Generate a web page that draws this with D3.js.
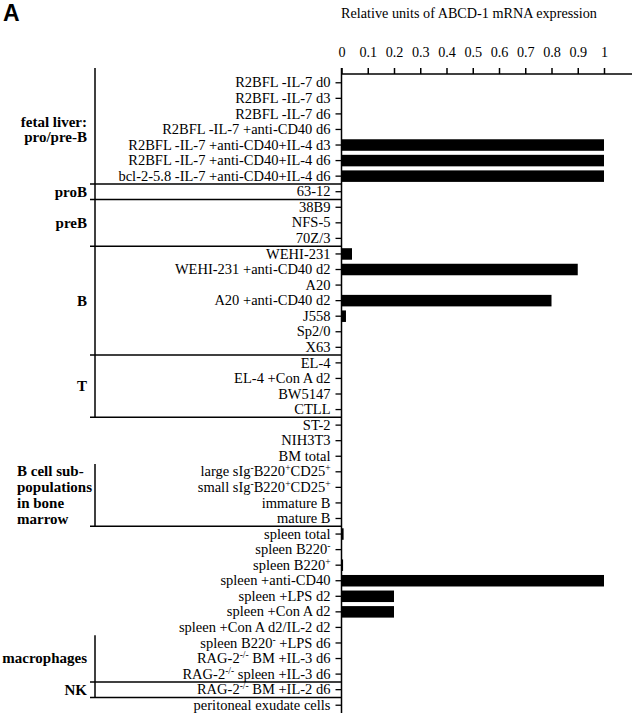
<!DOCTYPE html>
<html>
<head>
<meta charset="utf-8">
<script src="https://cdn.jsdelivr.net/npm/d3@7"></script>
<style>
  body { margin: 0; background: #fff; }
  svg { display: block; }
  text { font-family: "Liberation Serif", "Times New Roman", serif; fill: #000; }
</style>
</head>
<body>
<svg id="chart"></svg>
<script>
// rows, top to bottom; text inside {} is drawn as superscript
const categories = [
  'R2BFL -IL-7 d0',
  'R2BFL -IL-7 d3',
  'R2BFL -IL-7 d6',
  'R2BFL -IL-7 +anti-CD40 d6',
  'R2BFL -IL-7 +anti-CD40+IL-4 d3',
  'R2BFL -IL-7 +anti-CD40+IL-4 d6',
  'bcl-2-5.8 -IL-7 +anti-CD40+IL-4 d6',
  '63-12',
  '38B9',
  'NFS-5',
  '70Z/3',
  'WEHI-231',
  'WEHI-231 +anti-CD40 d2',
  'A20',
  'A20 +anti-CD40 d2',
  'J558',
  'Sp2/0',
  'X63',
  'EL-4',
  'EL-4 +Con A d2',
  'BW5147',
  'CTLL',
  'ST-2',
  'NIH3T3',
  'BM total',
  'large sIg{-}B220{+}CD25{+}',
  'small sIg{-}B220{+}CD25{+}',
  'immature B',
  'mature B',
  'spleen total',
  'spleen B220{-}',
  'spleen B220{+}',
  'spleen +anti-CD40',
  'spleen +LPS d2',
  'spleen +Con A d2',
  'spleen +Con A d2/IL-2 d2',
  'spleen B220{-} +LPS d6',
  'RAG-2{-/-} BM +IL-3 d6',
  'RAG-2{-/-} spleen +IL-3 d6',
  'RAG-2{-/-} BM +IL-2 d6',
  'peritoneal exudate cells'
]

const values = [
  0, 0, 0, 0, 1, 1, 1,
  0,
  0, 0, 0,
  0.04, 0.9, 0, 0.8, 0.017, 0, 0,
  0, 0, 0, 0,
  0, 0, 0,
  0, 0, 0, 0,
  0.008, 0, 0.006, 1, 0.2, 0.2, 0,
  0, 0, 0,
  0,
  0
]

const xTicks = [0, 0.1, 0.2, 0.3, 0.4, 0.5, 0.6, 0.7, 0.8, 0.9, 1]

// cell-type groups shown as brackets on the left (row index ranges)
const groupLabels = [
  ['fetal liver:', 'pro/pre-B'],
  ['proB'],
  ['preB'],
  ['B'],
  ['T'],
  ['B cell sub-', 'populations', 'in bone', 'marrow'],
  ['macrophages'],
  ['NK']
]
const groupStart = [0, 7, 8, 11, 18, 25, 36, 39]
const groupEnd = [6, 7, 10, 17, 21, 28, 38, 39]

const width = 640
const height = 720

const svg = d3.select('#chart')
  .attr('width', width)
  .attr('height', height)

const x = d3.scaleLinear().domain([0, 1]).range([341.5, 604])
const y = d3.scaleBand()
  .domain(categories)
  .range([75, 713])
  .paddingInner(0.26)
  .paddingOuter(0.13)

const cellTop = c => y(c) - y.step() * y.paddingInner() / 2
const cellBottom = c => cellTop(c) + y.step()

// write a label with {..} parts raised as superscripts
function richText (sel, label) {
  sel.text(null)
  label.split(/(\{[^}]*\})/).filter(s => s.length).forEach((part, i, arr) => {
    const sup = part[0] === '{'
    const prevSup = i > 0 && arr[i - 1][0] === '{'
    const t = sel.append('tspan').text(sup ? part.slice(1, -1) : part)
    if (sup) t.attr('font-size', 9.5).attr('dy', -5)
    else if (prevSup) t.attr('dy', 5)
  })
}

// panel letter and title
svg.append('text')
  .attr('x', 3)
  .attr('y', 21)
  .style('font-family', '"Liberation Sans", Arial, sans-serif')
  .attr('font-weight', 'bold')
  .attr('font-size', 23)
  .text('A')

svg.append('text')
  .attr('x', 469)
  .attr('y', 18)
  .attr('text-anchor', 'middle')
  .attr('font-size', 14.2)
  .text('Relative units of ABCD-1 mRNA expression')

// top x axis
const xAxis = svg.append('g')
  .attr('transform', 'translate(0,74)')
  .call(d3.axisTop(x)
    .tickValues(xTicks)
    .tickSize(6)
    .tickSizeOuter(0)
    .tickPadding(11)
    .tickFormat(d => String(+d.toFixed(1))))
  .attr('font-family', null)
  .attr('font-size', 14.2)

xAxis.select('.domain').remove()
xAxis.selectAll('.tick line').attr('stroke-width', 1.5)
xAxis.append('line')
  .attr('x1', x(0))
  .attr('x2', 632)
  .attr('stroke', '#000')
  .attr('stroke-width', 1.5)

// left y axis with row labels
const yAxis = svg.append('g')
  .attr('transform', `translate(${x(0)},0)`)
  .call(d3.axisLeft(y).tickSize(6).tickSizeOuter(0).tickPadding(5))
  .attr('font-family', null)
  .attr('font-size', 14.5)

yAxis.select('.domain').remove()
yAxis.selectAll('.tick line').attr('stroke-width', 1.3)
yAxis.selectAll('.tick text').each(function (d) { richText(d3.select(this), d) })
yAxis.append('line')
  .attr('y1', 68)
  .attr('y2', 713)
  .attr('stroke', '#000')
  .attr('stroke-width', 1.5)

// bars
svg.append('g')
  .selectAll('rect')
  .data(categories.map((c, i) => ({ c, v: values[i] })).filter(d => d.v > 0))
  .join('rect')
  .attr('x', x(0))
  .attr('y', d => y(d.c))
  .attr('width', d => x(d.v) - x(0))
  .attr('height', y.bandwidth())
  .attr('fill', '#000')

// group brackets
const brackets = svg.append('g')
  .attr('stroke', '#000')
  .attr('stroke-width', 1.5)

groupLabels.forEach((lines, i) => {
  const first = categories[groupStart[i]]
  const last = categories[groupEnd[i]]
  const top = i === 0 ? 68 : cellTop(first)
  const bottom = cellBottom(last)

  brackets.append('line')
    .attr('x1', 95).attr('x2', 95)
    .attr('y1', top).attr('y2', bottom)
  brackets.append('line')
    .attr('x1', 90).attr('x2', x(0))
    .attr('y1', bottom).attr('y2', bottom)

  const mid = (cellTop(first) + bottom) / 2
  const lh = lines.length > 2 ? 16 : 15.5
  const left = lines.length > 2
  const label = svg.append('text')
    .attr('font-weight', 'bold')
    .attr('font-size', 15)
    .attr('text-anchor', left ? 'start' : 'end')
  lines.forEach((line, j) => {
    label.append('tspan')
      .attr('x', left ? 17 : 87)
      .attr('y', mid + (j - (lines.length - 1) / 2) * lh)
      .attr('dy', '0.33em')
      .text(line)
  })
})
</script>
</body>
</html>
